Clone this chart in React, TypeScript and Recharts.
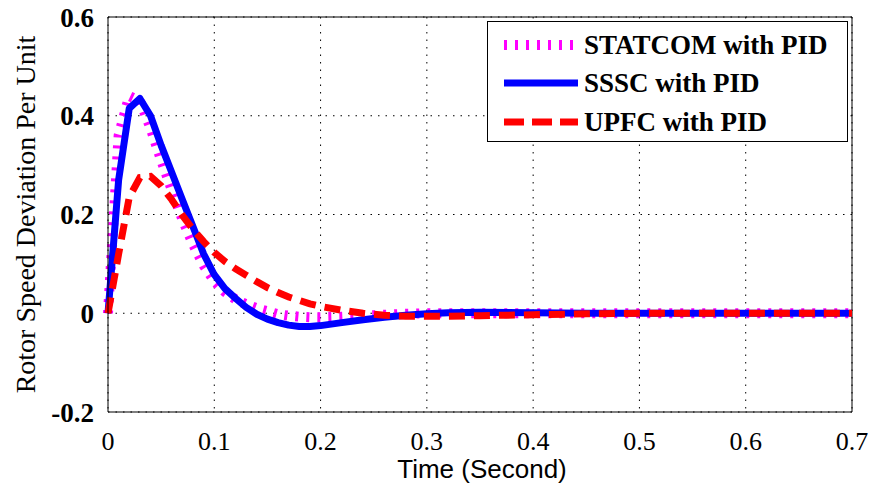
import React from 'react';
import {
  LineChart,
  Line,
  XAxis,
  YAxis,
  CartesianGrid,
  Legend,
  ReferenceLine,
} from 'recharts';

if (typeof document !== 'undefined') document.body.style.margin = '0';

// time axis (s)
const time = [
  0, 0.01, 0.02, 0.03, 0.04, 0.05, 0.06, 0.07, 0.08, 0.09, 0.1, 0.11, 0.12, 0.13, 0.14, 0.15, 0.16,
  0.17, 0.18, 0.19, 0.2, 0.22, 0.24, 0.26, 0.28, 0.3, 0.32, 0.35, 0.4, 0.45, 0.5, 0.55, 0.6, 0.65, 0.7,
];

const statcom = [
  0, 0.36, 0.44, 0.43, 0.375, 0.31, 0.25, 0.19, 0.14, 0.097, 0.065, 0.043, 0.028, 0.018, 0.01, 0.004,
  -0.002, -0.005, -0.007, -0.008, -0.008, -0.007, -0.005, -0.003, -0.001, 0, 0, 0, 0, 0, 0, 0, 0, 0, 0,
];

const sssc = [
  0, 0.27, 0.415, 0.435, 0.4, 0.34, 0.285, 0.23, 0.175, 0.12, 0.078, 0.05, 0.03, 0.012, -0.002, -0.012,
  -0.019, -0.024, -0.027, -0.027, -0.025, -0.019, -0.013, -0.008, -0.004, -0.001, 0.001, 0.002, 0.001,
  0, 0, 0, 0, 0, 0,
];

const upfc = [
  0, 0.12, 0.235, 0.275, 0.277, 0.258, 0.23, 0.198, 0.17, 0.145, 0.123, 0.105, 0.09, 0.077, 0.064,
  0.052, 0.042, 0.033, 0.026, 0.019, 0.014, 0.006, 0, -0.004, -0.006, -0.006, -0.006, -0.005, -0.003,
  -0.001, 0, 0, 0, 0, 0,
];

const xTicks = [0, 0.1, 0.2, 0.3, 0.4, 0.5, 0.6, 0.7];
const yTicks = [-0.2, 0, 0.2, 0.4, 0.6];

const seriesNames = ['STATCOM with PID', 'SSSC with PID', 'UPFC with PID'];

const data = time.map((t, i) => ({
  t,
  statcom: statcom[i],
  sssc: sssc[i],
  upfc: upfc[i],
}));

const serif = "'Liberation Serif', 'Times New Roman', Times, serif";
const sans = "'Liberation Sans', Arial, sans-serif";

function LegendBox() {
  const rows = [
    { name: seriesNames[0], color: '#ff00ff', width: 10, dash: '3 8' },
    { name: seriesNames[1], color: '#0000ff', width: 7, dash: undefined },
    { name: seriesNames[2], color: '#ff0000', width: 7, dash: '20 8' },
  ];
  return (
    <div
      style={{
        width: 361,
        height: 121,
        border: '1.5px solid #000',
        background: '#fff',
        boxSizing: 'border-box',
        position: 'relative',
      }}
    >
      {rows.map((r, i) => (
        <div
          key={r.name}
          style={{ position: 'absolute', left: 0, top: [23, 61, 100][i] - 22, height: 44, width: '100%' }}
        >
          <svg width={80} height={44} style={{ position: 'absolute', left: 14, top: 0 }}>
            <line
              x1={2}
              x2={76}
              y1={22}
              y2={22}
              stroke={r.color}
              strokeWidth={r.width}
              strokeDasharray={r.dash}
            />
          </svg>
          <span
            style={{
              position: 'absolute',
              left: 96,
              top: 0,
              lineHeight: '44px',
              fontFamily: serif,
              fontWeight: 'bold',
              fontSize: 27,
              color: '#000',
              whiteSpace: 'nowrap',
            }}
          >
            {r.name}
          </span>
        </div>
      ))}
    </div>
  );
}

export default function App() {
  return (
    <LineChart width={872} height={484} data={data} margin={{ top: 17, right: 20, bottom: 0, left: 0 }}>
      <CartesianGrid stroke="#000" strokeDasharray="1.5 6" />
      <XAxis
        dataKey="t"
        type="number"
        domain={[0, 0.7]}
        ticks={xTicks}
        height={72}
        stroke="#000"
        tickLine={false}
        tickMargin={14}
        tick={{ fill: '#000', fontFamily: serif, fontSize: 26 }}
        tickFormatter={(v) => String(v)}
        label={{
          content: ({ viewBox }: any) => (
            <text
              x={viewBox.x + viewBox.width / 2 + 2}
              y={viewBox.y + 66}
              textAnchor="middle"
              fontFamily={sans}
              fontSize={26}
              fill="#000"
            >
              Time (Second)
            </text>
          ),
        }}
      />
      <YAxis
        type="number"
        domain={[-0.2, 0.6]}
        ticks={yTicks}
        width={108}
        stroke="#000"
        tickLine={false}
        tickMargin={8}
        tick={{ fill: '#000', fontFamily: serif, fontSize: 27, fontWeight: 'bold' }}
        tickFormatter={(v) => String(v)}
        label={{
          content: ({ viewBox }: any) => {
            const cx = 25;
            const cy = viewBox.y + viewBox.height / 2;
            return (
              <text
                x={cx}
                y={cy}
                transform={`rotate(-90 ${cx} ${cy})`}
                textAnchor="middle"
                dominantBaseline="central"
                fontFamily={serif}
                fontSize={28}
                fill="#000"
              >
                Rotor Speed Deviation Per Unit
              </text>
            );
          },
        }}
      />
      <ReferenceLine y={0.6} stroke="#000" strokeWidth={1} />
      <ReferenceLine x={0.7} stroke="#000" strokeWidth={1} />
      <Legend
        layout="vertical"
        align="center"
        verticalAlign="middle"
        wrapperStyle={{ top: 21, left: 487, width: 361 }}
        content={() => <LegendBox />}
      />
      <Line
        dataKey="statcom"
        name={seriesNames[0]}
        type="linear"
        stroke="#ff00ff"
        strokeWidth={10}
        strokeDasharray="3 8"
        dot={false}
        isAnimationActive={false}
      />
      <Line
        dataKey="sssc"
        name={seriesNames[1]}
        type="linear"
        stroke="#0000ff"
        strokeWidth={7}
        strokeLinejoin="round"
        dot={false}
        isAnimationActive={false}
      />
      <Line
        dataKey="upfc"
        name={seriesNames[2]}
        type="linear"
        stroke="#ff0000"
        strokeWidth={7}
        strokeDasharray="16 9"
        dot={false}
        isAnimationActive={false}
      />
    </LineChart>
  );
}
